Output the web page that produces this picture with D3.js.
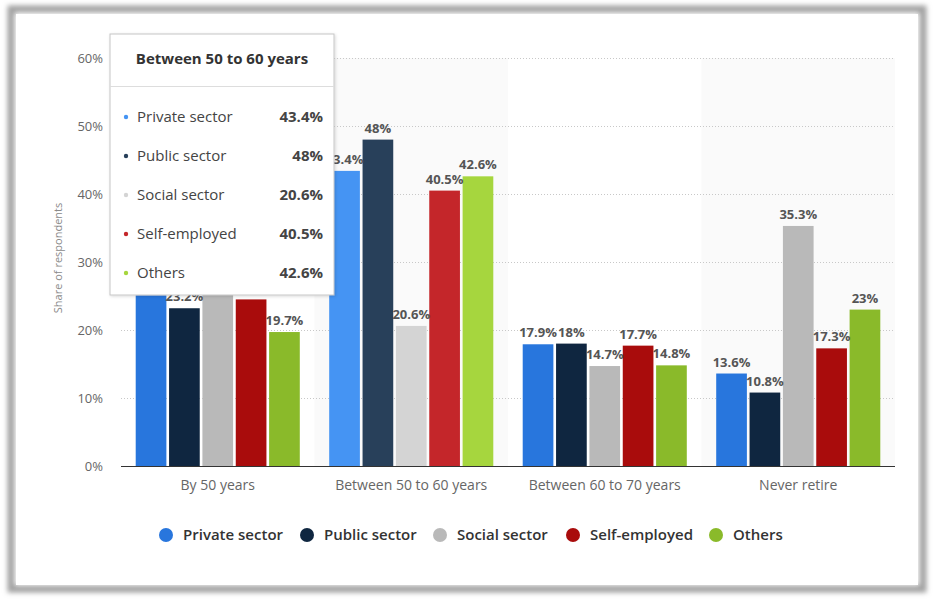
<!DOCTYPE html>
<html><head><meta charset="utf-8">
<script src="https://cdn.jsdelivr.net/npm/d3@7"></script>
<style>
html,body{margin:0;padding:0;background:#fff;}
svg{display:block;font-family:"Open Sans","DejaVu Sans",sans-serif;}
</style></head>
<body>
<svg id="chart" width="937" height="600"></svg>
<script>
const categories = ["By 50 years", "Between 50 to 60 years", "Between 60 to 70 years", "Never retire"];
const seriesNames = ["Private sector", "Public sector", "Social sector", "Self-employed", "Others"];
const privateSector = [25.1, 43.4, 17.9, 13.6];
const publicSector = [23.2, 48, 18, 10.8];
const socialSector = [29.4, 20.6, 14.7, 35.3];
const selfEmployed = [24.5, 40.5, 17.7, 17.3];
const others = [19.7, 42.6, 14.8, 23];
const yTicks = [0, 10, 20, 30, 40, 50, 60];
const tooltipTitle = "Between 50 to 60 years";
const hoverIndex = 1;

const seriesValues = [privateSector, publicSector, socialSector, selfEmployed, others];
const colors = ["#2876dd", "#0f2640", "#b9b9b9", "#a90c0c", "#8aba2a"];
const hoverColors = ["#4594f3", "#28405a", "#d4d4d4", "#c4262a", "#a6d63e"];

const svg = d3.select("#chart");
const defs = svg.append("defs");
const sh = defs.append("filter").attr("id","frameShadow").attr("x","-5%").attr("y","-5%").attr("width","110%").attr("height","110%");
sh.append("feGaussianBlur").attr("stdDeviation", 2.5);
const tsh = defs.append("filter").attr("id","tipShadow").attr("x","-10%").attr("y","-10%").attr("width","120%").attr("height","120%");
tsh.append("feDropShadow").attr("dx",1).attr("dy",1).attr("stdDeviation",1.5).attr("flood-color","#000").attr("flood-opacity",0.15);

// frame
svg.append("rect").attr("x",11).attr("y",9).attr("width",912).attr("height",580)
  .attr("fill","none").attr("stroke","#a0a0a0").attr("stroke-width",7).attr("filter","url(#frameShadow)");
svg.append("rect").attr("x",16).attr("y",14).attr("width",902).attr("height",571).attr("fill","#fff");

const pLeft = 121, pRight = 895, pTop = 58, pBottom = 466;
const y = d3.scaleLinear().domain([0, 60]).range([pBottom, pTop]);
const x0 = d3.scaleBand().domain(categories).range([pLeft, pRight]).paddingInner(0.152).paddingOuter(0.076);
const x1 = d3.scaleBand().domain(seriesNames).range([0, x0.bandwidth()]).paddingInner(0.08).paddingOuter(0);
const step = x0.step();

// alternating bands
svg.append("g").selectAll("rect").data(categories.filter((d,i)=>i%2===1)).join("rect")
  .attr("x", d => x0(d) - x0.paddingOuter()*step)
  .attr("y", pTop).attr("width", step).attr("height", pBottom - pTop)
  .attr("fill", "#fafafa");

// grid
svg.append("g").selectAll("line").data(yTicks.filter(t=>t>0)).join("line")
  .attr("x1", pLeft).attr("x2", pRight)
  .attr("y1", d => Math.round(y(d))+0.5).attr("y2", d => Math.round(y(d))+0.5)
  .attr("stroke", "#c8c8c8").attr("stroke-dasharray", "1,2");

// y axis labels
const yAxis = d3.axisLeft(y).tickValues(yTicks).tickFormat(d => d + "%").tickSize(0).tickPadding(0);
const yg = svg.append("g").attr("transform", `translate(103,0)`).call(yAxis);
yg.select(".domain").remove();
yg.selectAll("text").attr("fill","#666").attr("font-size", 13).attr("font-family","\"Open Sans\",sans-serif");

svg.append("text").attr("transform", `translate(62,${(pTop+pBottom)/2 - 4}) rotate(-90)`)
  .attr("text-anchor","middle").attr("font-size", 11).attr("fill","#8a8a8a").text("Share of respondents");

// bars
const groups = svg.append("g").selectAll("g").data(categories).join("g")
  .attr("transform", d => `translate(${x0(d)},0)`);
groups.each(function(cat, ci) {
  const g = d3.select(this);
  seriesNames.forEach((s, si) => {
    const v = seriesValues[si][ci];
    g.append("rect").attr("x", x1(s)).attr("width", x1.bandwidth())
      .attr("y", y(v)).attr("height", pBottom - y(v))
      .attr("fill", ci === hoverIndex ? hoverColors[si] : colors[si]);
  });
});
groups.each(function(cat, ci) {
  const g = d3.select(this);
  seriesNames.forEach((s, si) => {
    const v = seriesValues[si][ci];
    g.append("text").attr("x", x1(s) + x1.bandwidth()/2).attr("y", y(v) - 7)
      .attr("text-anchor","middle").attr("font-size", 13).attr("font-weight","bold")
      .attr("fill","#555").text(v + "%");
  });
});

// baseline
svg.append("line").attr("x1", pLeft).attr("x2", pRight).attr("y1", pBottom+0.5).attr("y2", pBottom+0.5)
  .attr("stroke","#333").attr("stroke-width",1.2);

// x axis labels
const xAxis = d3.axisBottom(x0).tickSize(0).tickPadding(0);
const xg = svg.append("g").attr("transform", `translate(0,${pBottom+14})`).call(xAxis);
xg.select(".domain").remove();
xg.selectAll("text").attr("fill","#666").attr("font-size", 14).attr("font-family","\"Open Sans\",sans-serif");

// legend
const legendX = [166, 307, 440, 573, 716];
const lg = svg.append("g").selectAll("g").data(seriesNames).join("g")
  .attr("transform", (d,i) => `translate(${legendX[i]},535)`);
lg.append("circle").attr("r", 7).attr("fill", (d,i) => colors[i]);
lg.append("text").attr("x", 17).attr("dy","0.35em").attr("font-size", 15).attr("font-weight","600")
  .attr("fill","#333").text(d => d);

// tooltip
const tip = svg.append("g").attr("transform","translate(110,34)");
tip.append("rect").attr("width", 224).attr("height", 261).attr("fill","#fff")
  .attr("stroke","#c6c6c6").attr("filter","url(#tipShadow)");
tip.append("text").attr("x", 112).attr("y", 30).attr("text-anchor","middle")
  .attr("font-size", 15).attr("font-weight","bold").attr("fill","#333").text(tooltipTitle);
tip.append("line").attr("x1", 0).attr("x2", 224).attr("y1", 52.5).attr("y2", 52.5).attr("stroke","#ddd");
seriesNames.forEach((s, si) => {
  const ry = 88 + si * 39;
  tip.append("circle").attr("cx", 16).attr("cy", ry - 5).attr("r", 2.2).attr("fill", hoverColors[si]);
  tip.append("text").attr("x", 27).attr("y", ry).attr("font-size", 15).attr("fill","#444").text(s);
  tip.append("text").attr("x", 213).attr("y", ry).attr("text-anchor","end").attr("font-size", 15)
    .attr("font-weight","bold").attr("fill","#444").text(seriesValues[si][hoverIndex] + "%");
});
</script>
</body></html>
